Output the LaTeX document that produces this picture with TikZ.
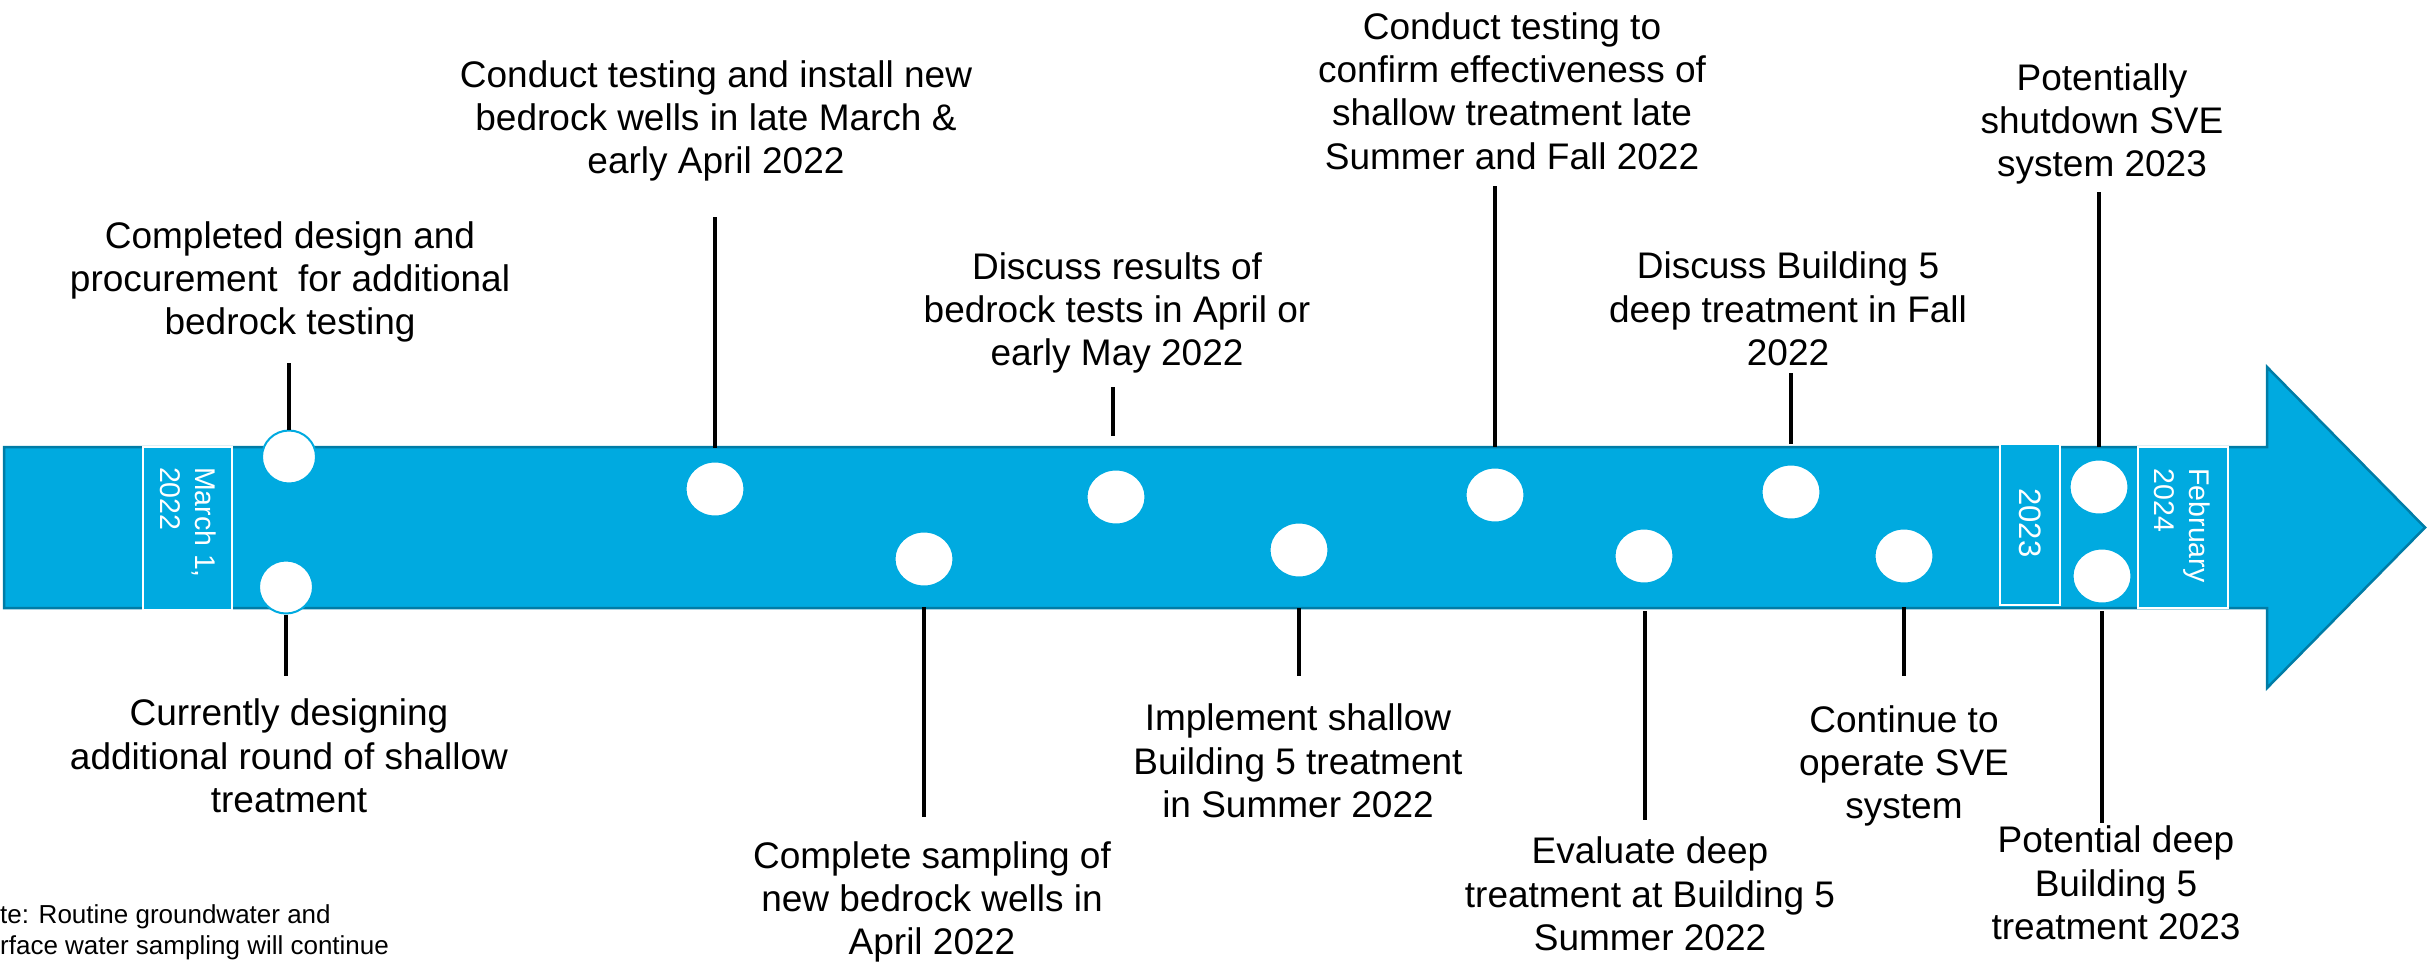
\documentclass[tikz,border=0pt]{standalone}
\usepackage{fontspec}
\setmainfont{Liberation Sans}
\usetikzlibrary{shapes.geometric}
\definecolor{bandfill}{RGB}{0,170,224}
\definecolor{bandedge}{RGB}{0,124,166}
\begin{document}
\begin{tikzpicture}[x=1pt,y=-1pt,
  lbl/.style={align=center, inner sep=0, font=\fontsize{37}{43.3}\selectfont},
  notetxt/.style={align=left, inner sep=0, anchor=west, font=\fontsize{26}{31}\selectfont},
  dot/.style={ellipse, fill=white, draw=bandfill, line width=2pt, minimum width=59pt, minimum height=55pt, inner sep=0},
  smalldot/.style={dot, minimum width=54pt, minimum height=53pt},
  tick/.style={line width=3.8pt, black},
  datebox/.style={draw=white, line width=2pt, fill=bandfill, inner sep=0},
  datetxt/.style={white, rotate=-90, align=left, inner sep=0, font=\fontsize{28.5}{35}\selectfont}]
\useasboundingbox (0,0) rectangle (2427,966);
% band arrow
\draw[fill=bandfill, draw=bandedge, line width=2.5pt, line join=miter]
  (4,447) -- (2267,447) -- (2267,367) -- (2425,527.5) -- (2267,688) -- (2267,608) -- (4,608) -- cycle;
% date boxes
\node[datebox, minimum width=89pt, minimum height=163pt] (marbox) at (187.5,528.5) {};
\node[datetxt] (martxt) at (188,522.5) {March 1,\\2022};
\node[datebox, minimum width=60pt, minimum height=161pt] (y23box) at (2030,524.5) {};
\node[datetxt, font=\fontsize{31}{35}\selectfont] (y23txt) at (2030,523) {2023};
\node[datebox, minimum width=90pt, minimum height=161pt] (febbox) at (2183,527.5) {};
\node[datetxt] (febtxt) at (2182,525.5) {February\\2024};
% milestone dots
\node[smalldot] (c1) at (289,457) {};
\node[smalldot] (c2) at (286,587) {};
\node[dot] (c3) at (715,489) {};
\node[dot] (c4) at (924,559) {};
\node[dot] (c5) at (1116,497) {};
\node[dot] (c6) at (1299,550) {};
\node[dot] (c7) at (1495,495) {};
\node[dot] (c8) at (1644,556) {};
\node[dot] (c9) at (1791,492) {};
\node[dot] (c10) at (1904,556) {};
\node[dot] (c11) at (2099,487) {};
\node[dot] (c12) at (2102,576) {};
% leader line end points
\coordinate (a1) at (289,363);
\coordinate (b2) at (286,676);
\coordinate (a3) at (715,217);  \coordinate (b3) at (715,448);
\coordinate (a4) at (924,607);  \coordinate (b4) at (924,817);
\coordinate (a5) at (1113,387); \coordinate (b5) at (1113,436);
\coordinate (a6) at (1299,608); \coordinate (b6) at (1299,676);
\coordinate (a7) at (1495,186); \coordinate (b7) at (1495,447);
\coordinate (a8) at (1645,611); \coordinate (b8) at (1645,820);
\coordinate (a9) at (1791,373); \coordinate (b9) at (1791,444);
\coordinate (a10) at (1904,607); \coordinate (b10) at (1904,676);
\coordinate (a11) at (2099,192); \coordinate (b11) at (2099,447);
\coordinate (a12) at (2102,611); \coordinate (b12) at (2102,823);
\draw[tick] (a1) -- (c1);
\draw[tick] (c2) -- (b2);
\draw[tick] (a3) -- (b3);
\draw[tick] (a4) -- (b4);
\draw[tick] (a5) -- (b5);
\draw[tick] (a6) -- (b6);
\draw[tick] (a7) -- (b7);
\draw[tick] (a8) -- (b8);
\draw[tick] (a9) -- (b9);
\draw[tick] (a10) -- (b10);
\draw[tick] (a11) -- (b11);
\draw[tick] (a12) -- (b12);
% labels above
\node[lbl] (t1) at (290,282) {Completed design and\\procurement\ \ for additional\\bedrock testing};
\node[lbl] (t3) at (716,121) {Conduct testing and install new\\bedrock wells in late March \&\\early April 2022};
\node[lbl] (t5) at (1117,313) {Discuss results of\\bedrock tests in April or\\early May 2022};
\node[lbl] (t7) at (1512,91) {Conduct testing to\\confirm effectiveness of\\shallow treatment late\\Summer and Fall 2022};
\node[lbl] (t9) at (1788,309) {Discuss Building 5\\deep treatment in Fall\\2022};
\node[lbl] (t11) at (2102,124) {Potentially\\shutdown SVE\\system 2023};
% labels below
\node[lbl] (t2) at (289,756) {Currently designing\\additional round of shallow\\treatment};
\node[lbl] (t4) at (932,902) {Complete sampling of\\new bedrock wells in\\April 2022};
\node[lbl] (t6) at (1298,761) {Implement shallow\\Building 5 treatment\\in Summer 2022};
\node[lbl] (t8) at (1650,894) {Evaluate deep\\treatment at Building 5\\Summer 2022};
\node[lbl] (t10) at (1904,766) {Continue to\\operate SVE\\system};
\node[lbl] (t12) at (2116,883) {Potential deep\\Building 5\\treatment 2023};
% note
\node[notetxt] (note) at (0,932) {te: Routine groundwater and\\rface water sampling will continue};
\end{tikzpicture}
\end{document}
